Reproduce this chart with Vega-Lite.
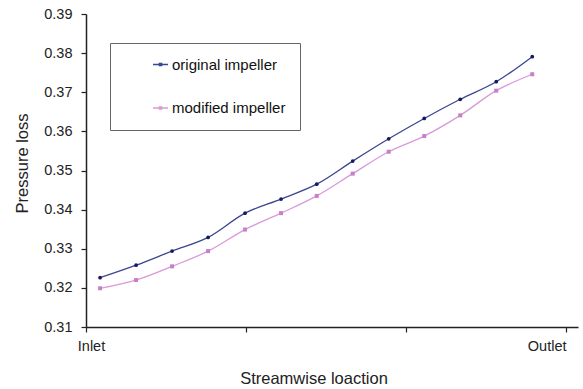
{
  "$schema": "https://vega.github.io/schema/vega-lite/v6.json",
  "width": 492,
  "height": 313,
  "autosize": {"type": "none"},
  "padding": {"left": 86, "top": 14, "right": 5, "bottom": 62},
  "background": "white",
  "config": {
    "font": "Liberation Sans",
    "view": {"stroke": null},
    "axis": {
      "domainColor": "#222",
      "domainWidth": 1.5,
      "tickColor": "#222",
      "tickWidth": 1.2,
      "tickSize": 5,
      "labelColor": "#222",
      "labelFontSize": 14.5,
      "grid": false,
      "titleFontSize": 16.5,
      "titleFontWeight": "normal",
      "titleColor": "#222"
    }
  },
  "data": {
    "values": [
      {"series": "original impeller", "x": 0.088, "y": 0.3226},
      {"series": "original impeller", "x": 0.313, "y": 0.3258},
      {"series": "original impeller", "x": 0.538, "y": 0.3294},
      {"series": "original impeller", "x": 0.763, "y": 0.3329},
      {"series": "original impeller", "x": 0.994, "y": 0.3391},
      {"series": "original impeller", "x": 1.219, "y": 0.3427},
      {"series": "original impeller", "x": 1.442, "y": 0.3465},
      {"series": "original impeller", "x": 1.667, "y": 0.3524},
      {"series": "original impeller", "x": 1.892, "y": 0.3581},
      {"series": "original impeller", "x": 2.114, "y": 0.3633},
      {"series": "original impeller", "x": 2.339, "y": 0.3682},
      {"series": "original impeller", "x": 2.564, "y": 0.3727},
      {"series": "original impeller", "x": 2.789, "y": 0.3791},
      {"series": "modified impeller", "x": 0.088, "y": 0.3199},
      {"series": "modified impeller", "x": 0.313, "y": 0.3220},
      {"series": "modified impeller", "x": 0.538, "y": 0.3255},
      {"series": "modified impeller", "x": 0.763, "y": 0.3294},
      {"series": "modified impeller", "x": 0.994, "y": 0.3349},
      {"series": "modified impeller", "x": 1.219, "y": 0.3391},
      {"series": "modified impeller", "x": 1.442, "y": 0.3435},
      {"series": "modified impeller", "x": 1.667, "y": 0.3492},
      {"series": "modified impeller", "x": 1.892, "y": 0.3548},
      {"series": "modified impeller", "x": 2.114, "y": 0.3588},
      {"series": "modified impeller", "x": 2.339, "y": 0.3641},
      {"series": "modified impeller", "x": 2.564, "y": 0.3704},
      {"series": "modified impeller", "x": 2.789, "y": 0.3746}
    ]
  },
  "encoding": {
    "x": {
      "field": "x",
      "type": "quantitative",
      "scale": {"domain": [0, 3.075], "nice": false, "zero": false},
      "axis": {
        "title": "Streamwise loaction",
        "values": [0, 1, 2, 3],
        "labelExpr": "datum.value == 0 ? 'Inlet' : (datum.value == 3 ? 'Outlet' : '')",
        "labelAlign": {"condition": {"test": "datum.value == 3", "value": "right"}, "value": "center"},
        "labelOffset": {"condition": {"test": "datum.value == 0", "value": 5}, "value": 0},
        "labelPadding": 7,
        "labelFlush": false,
        "labelOverlap": false,
        "titleX": 227.5,
        "titleY": 56,
        "titleBaseline": "alphabetic",
        "titleAnchor": null
      }
    },
    "y": {
      "field": "y",
      "type": "quantitative",
      "scale": {"domain": [0.31, 0.39], "nice": false, "zero": false},
      "axis": {
        "title": "Pressure loss",
        "values": [0.31, 0.32, 0.33, 0.34, 0.35, 0.36, 0.37, 0.38, 0.39],
        "format": ".2f",
        "labelPadding": 9,
        "labelFlush": false,
        "labelOverlap": false,
        "titleX": -59,
        "titleY": 149,
        "titleBaseline": "alphabetic",
        "titleAngle": -90
      }
    }
  },
  "layer": [
    {
      "mark": {"type": "line", "interpolate": "catmull-rom", "strokeWidth": 1.3},
      "encoding": {
        "color": {
          "field": "series",
          "type": "nominal",
          "scale": {"domain": ["original impeller", "modified impeller"], "range": ["#3b4690", "#d99ad8"]},
          "legend": {
            "orient": "none",
            "legendX": 24,
            "legendY": 29,
            "title": null,
            "padding": 14,
            "strokeColor": "#666",
            "fillColor": "white",
            "symbolType": "M-1,0H1M-0.15,-0.15H0.15V0.15H-0.15Z",
            "symbolSize": 225,
            "symbolStrokeWidth": 1.4,
            "symbolOffset": 28,
            "labelOffset": 3,
            "clipHeight": 15,
            "rowPadding": 27.5,
            "labelFontSize": 15,
            "labelColor": "#111",
            "labelLimit": 400,
            "labelExpr": "datum.label + '\u00a0\u00a0\u00a0\u00a0\u00a0\u00a0\u00a0\u00a0\u00a0\u00a0\u00a0\u00a0\u00a0'"
          }
        }
      }
    },
    {
      "transform": [{"filter": "datum.series == 'original impeller'"}],
      "mark": {"type": "point", "filled": true, "opacity": 1, "size": 14, "shape": "circle", "color": "#141a5c"},
      "encoding": {}
    },
    {
      "transform": [{"filter": "datum.series == 'modified impeller'"}],
      "mark": {"type": "point", "filled": true, "opacity": 1, "size": 16, "shape": "square", "color": "#c77fc6"},
      "encoding": {}
    }
  ]
}
